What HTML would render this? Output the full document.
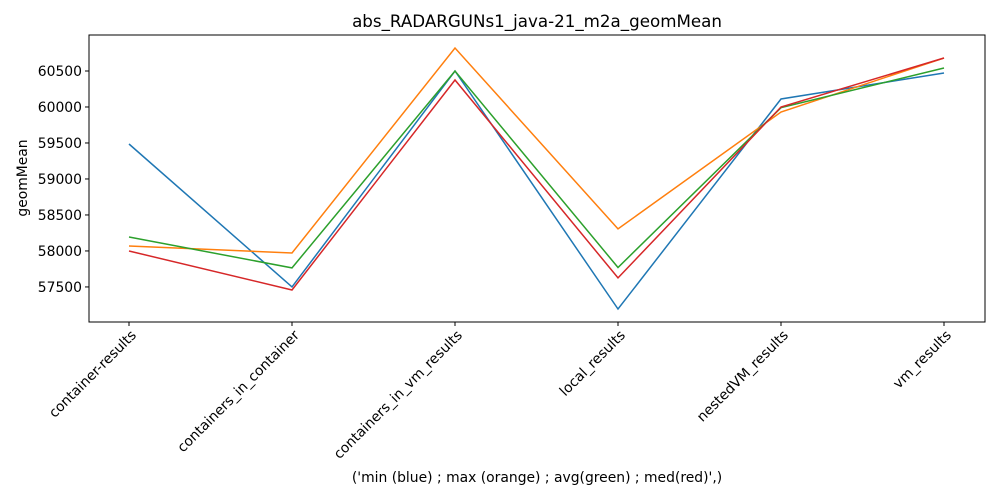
<!DOCTYPE html>
<html><head><meta charset="utf-8"><style>
body{margin:0;background:#fff;font-family:"DejaVu Sans","Liberation Sans",sans-serif;}
svg text{font-family:"DejaVu Sans","Liberation Sans",sans-serif;}
</style></head><body>
<svg id="c" width="1000" height="500" xmlns="http://www.w3.org/2000/svg"></svg>
<script>
const categories=["container-results","containers_in_container","containers_in_vm_results","local_results","nestedVM_results","vm_results"];
const minVals=[59486,57500,60500,57194,60111,60472];
const maxVals=[58069,57972,60819,58306,59930,60680];
const avgVals=[58194,57764,60500,57770,59990,60541];
const medVals=[58000,57458,60375,57625,60000,60680];
const yTicks=[57500,58000,58500,59000,59500,60000,60500];
const seriesList=[["min",minVals,"#1f77b4"],["max",maxVals,"#ff7f0e"],["avg",avgVals,"#2ca02c"],["med",medVals,"#d62728"]];

const svg=document.getElementById('c');const NS="http://www.w3.org/2000/svg";
const L=89,R=985,T=35,B=322,yMin=57013,yMax=61000;
const x0=129,x1=944;
function xs(i){return x0+i*(x1-x0)/(categories.length-1);}
function ys(v){return B-(v-yMin)/(yMax-yMin)*(B-T);}
function el(t,a,txt){const e=document.createElementNS(NS,t);for(const k in a)e.setAttribute(k,a[k]);if(txt!==undefined)e.textContent=txt;svg.appendChild(e);return e;}

let t=el('text',{x:537,y:27,'text-anchor':'middle','font-size':16.7},"abs_RADARGUNs1_java-21_m2a_geomMean");


yTicks.forEach(v=>{const y=ys(v);
 let l=el('line',{x1:L-4,x2:L,y1:y,y2:y,stroke:'#000'});
 
 let tx=el('text',{x:L-7,y:y+5,'text-anchor':'end','font-size':13.9},v);
 
});
categories.forEach((c,i)=>{const x=xs(i);
 let l=el('line',{x1:x,x2:x,y1:B,y2:B+4,stroke:'#000'});
 
 let ax=x+8,ay=B+14;
 let tx=el('text',{x:ax,y:ay,'text-anchor':'end','font-size':13.9,transform:`rotate(-45 ${ax} ${ay})`},c);
 
});
seriesList.forEach(s=>{
 const pts=s[1].map((v,i)=>xs(i).toFixed(1)+","+ys(v).toFixed(1)).join(" ");
 let p=el('polyline',{points:pts,fill:'none',stroke:s[2],'stroke-width':1.5});
 
});
let f=el('rect',{x:L,y:T,width:R-L,height:B-T,fill:'none',stroke:'#000','stroke-width':1});

let yl=el('text',{x:27,y:178,'text-anchor':'middle','font-size':13.9,transform:'rotate(-90 27 178)'},"geomMean");

let xl=el('text',{x:537,y:482,'text-anchor':'middle','font-size':13.9},"('min (blue) ; max (orange) ; avg(green) ; med(red)',)");

</script>
</body></html>
